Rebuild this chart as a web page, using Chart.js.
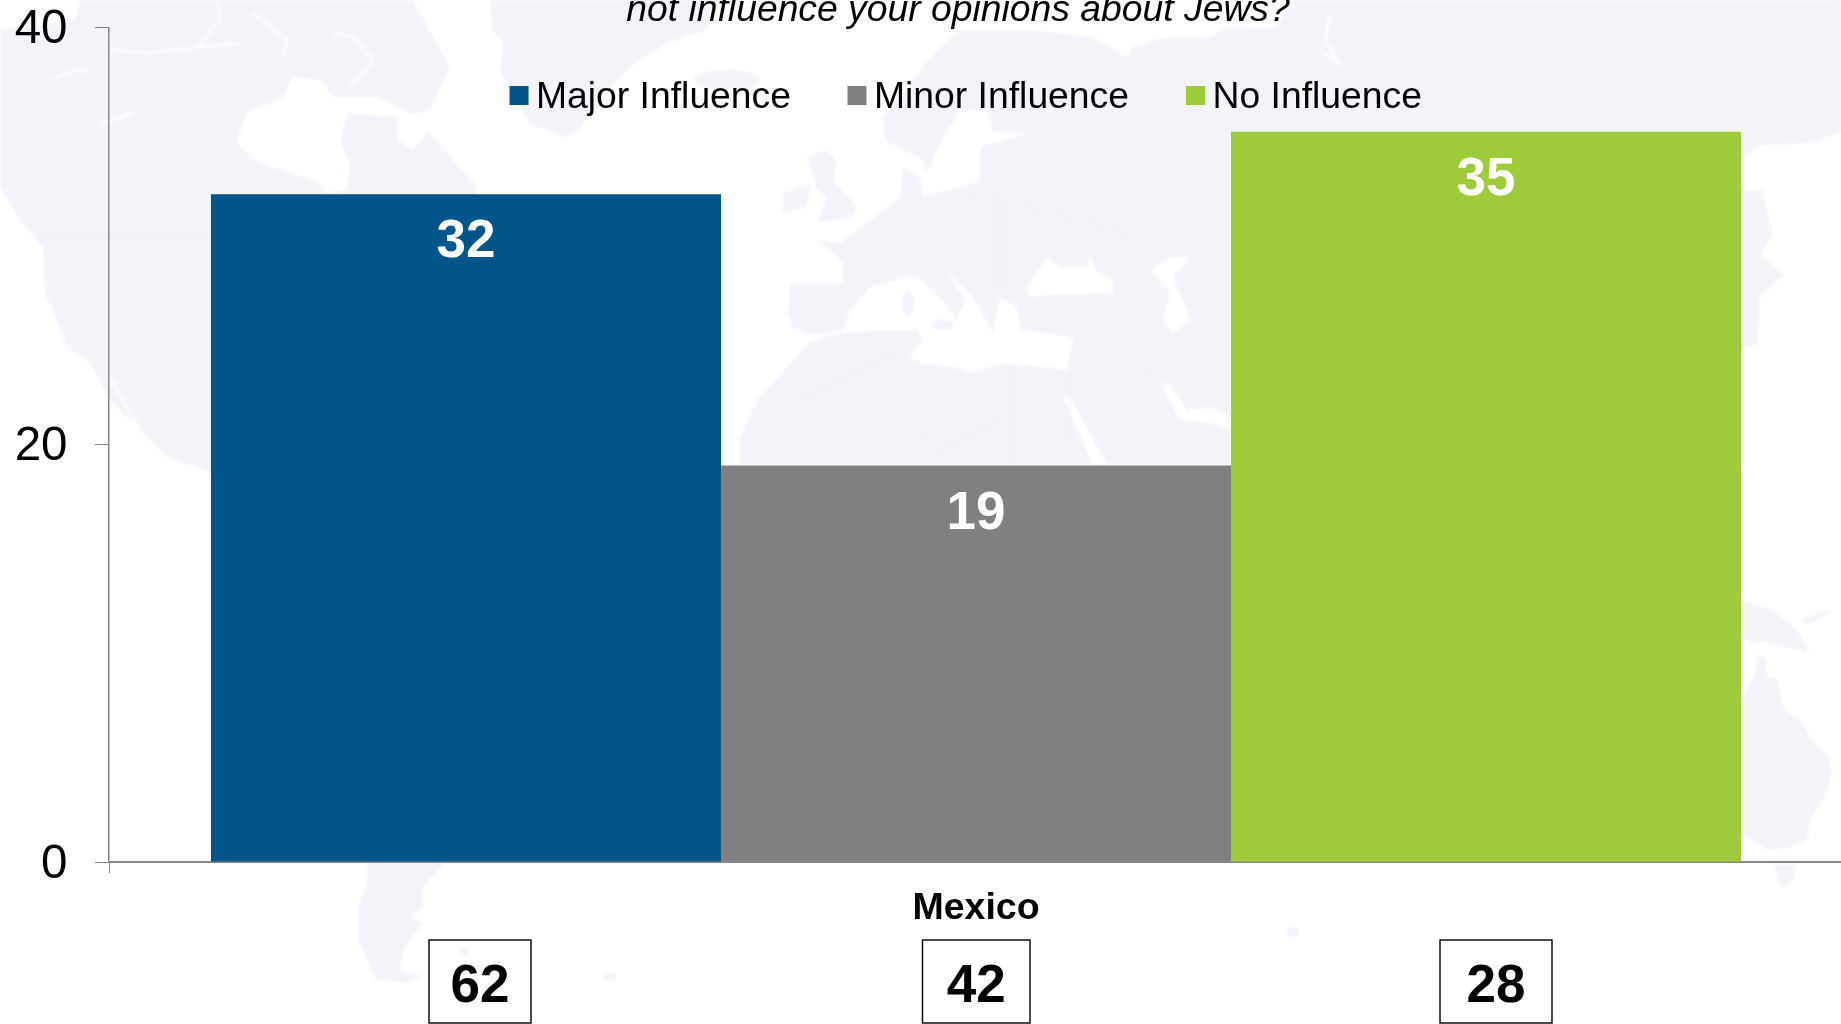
<!DOCTYPE html>
<html>
<head>
<meta charset="utf-8">
<style>
html,body{margin:0;padding:0;background:#fff;width:1841px;height:1024px;overflow:hidden}
#map{position:absolute;left:0;top:0;filter:blur(1.5px)}
#wrap{position:absolute;left:0;top:0;width:1841px;height:1024px;overflow:hidden}
</style>
<script src="https://cdn.jsdelivr.net/npm/chart.js@4"></script>
</head>
<body>
<svg id="map" width="1841" height="1024" viewBox="0 0 1841 1024">
  <g fill="#f2f4f9">
    <path d="M0,30 L75,20 L80,0 L413,0 L450,67 L430,110 L400,117 L430,133 L477,187 L477,480 L211,480 L211,473 L167,457 L140,430 L110,400 L90,363 L67,347 L45,293 L43,247 L20,220 L0,187 Z"/>
    <path d="M490,0 L713,0 L707,30 L667,43 L630,67 L590,110 L580,130 L563,137 L530,123 L500,73 L503,43 L492,30 Z"/>
    <ellipse cx="727" cy="80" rx="33" ry="10"/>
    <path d="M807,157 L827,150 L837,163 L833,180 L857,207 L853,217 L817,223 L827,197 L817,190 Z"/>
    <path d="M783,193 L810,183 L807,207 L783,213 Z"/>
    <path d="M935,52 L960,30 L1027,30 L1093,37 L1127,57 L1133,47 L1167,37 L1210,37 L1227,27 L1277,28 L1290,0 L1841,0 L1841,133 L1807,143 L1760,145 L1741,160 L1741,465 L740,465 L740,437 L757,400 L787,367 L808,343 L840,333 L880,330 L917,330 L923,340 L910,357 L923,363 L953,367 L970,373 L1007,363 L1067,370 L1073,337 L1020,330 L1017,307 L1000,298 L993,333 L975,300 L945,268 L965,300 L957,322 L945,303 L917,277 L907,277 L870,287 L850,310 L843,330 L813,335 L793,328 L788,313 L790,283 L843,283 L843,263 L817,240 L840,243 L870,220 L900,197 L903,167 L920,177 L923,197 L960,187 L980,180 L980,147 L1027,133 L993,133 L987,110 L960,110 L937,150 L927,173 L923,160 L885,140 L883,117 Z"/>
    <ellipse cx="943" cy="325" rx="12" ry="5"/>
    <ellipse cx="908" cy="303" rx="6" ry="13"/>
    <path d="M1741,190 L1762,190 L1773,235 L1760,255 L1785,275 L1760,295 L1758,345 L1741,347 Z"/>
    <path d="M1741,600 L1773,610 L1797,630 L1810,652 L1790,648 L1767,642 L1753,643 L1741,638 Z"/>
    <path d="M1800,620 L1827,610 L1830,613 L1807,625 Z"/>
    <path d="M1741,700 L1755,673 L1757,655 L1765,657 L1768,678 L1777,678 L1783,707 L1803,723 L1810,737 L1830,757 L1832,777 L1823,800 L1810,820 L1807,840 L1787,848 L1767,850 L1753,840 L1741,835 Z"/>
    <path d="M1774,865 L1797,865 L1793,880 L1783,888 L1777,877 Z"/>
    <path d="M367,862 L446,862 L423,887 L423,907 L411,917 L423,923 L405,947 L399,970 L425,977 L405,983 L376,980 L358,940 L358,907 L367,883 Z"/>
    <ellipse cx="610" cy="977" rx="7" ry="4"/>
    <ellipse cx="1293" cy="932" rx="7" ry="5"/>
    <ellipse cx="464" cy="952" rx="7" ry="3"/>
  </g>
  <g fill="#ffffff">
    <path d="M237,140 L247,113 L283,97 L293,77 L320,80 L333,97 L377,97 L417,117 L427,133 L413,150 L397,140 L397,117 L347,113 L340,143 L350,163 L347,190 L327,193 L317,182 L260,163 L243,150 Z"/>
    <path d="M1027,287 L1047,257 L1060,267 L1087,267 L1090,253 L1095,270 L1113,280 L1113,293 L1053,295 L1030,297 Z"/>
    <path d="M1152,270 L1170,257 L1190,257 L1173,277 L1190,320 L1173,333 L1163,320 L1170,293 Z"/>
    <path d="M1063,397 L1070,397 L1107,465 L1093,465 Z"/>
    <path d="M1160,383 L1170,383 L1187,410 L1210,407 L1230,417 L1230,430 L1210,423 L1180,420 Z"/>
    <path d="M997,307 L1015,307 L1017,335 L1000,340 Z"/>
  </g>
  <g fill="none" stroke="#ffffff" stroke-width="3" stroke-linejoin="round" opacity="0.85">
    <path d="M110,50 L150,53 L197,47 L220,20 L217,0"/>
    <path d="M197,47 L240,43"/>
    <path d="M253,13 L287,40 L283,58"/>
    <path d="M333,33 L353,37 L373,60 L350,87"/>
    <path d="M53,80 L73,70 L87,72"/>
    <path d="M100,125 L133,112"/>
    <path d="M110,377 L140,430"/>
    <path d="M1320,50 L1340,65 L1325,40 L1330,15"/>
  </g>
  <g fill="none" stroke="#edeff5" stroke-width="1">
    <path d="M33,236 L211,236"/>
    <path d="M800,400 L900,350 M860,380 L940,450 L1000,420 M1010,370 L1010,465 M1070,370 L1070,440"/>
    <path d="M960,190 L1040,210 L1100,225 L1140,240 M1000,200 L1000,290 M1140,370 L1190,400"/>
  </g>
</svg>
<div id="wrap"><canvas id="c" width="1843" height="1024"></canvas></div>
<script>
const categories = ['Mexico'];
const seriesNames = ['Major Influence', 'Minor Influence', 'No Influence'];
const majorInfluence = [32];
const minorInfluence = [19];
const noInfluence = [35];
const seriesColors = ['#02558b', '#808080', '#9fcb3a'];
const yTickValues = [0, 20, 40];
const boxedTotals = ['62', '42', '28'];
const titleText = 'not influence your opinions about Jews?';

const FONT = '"Liberation Sans", Arial, sans-serif';
const AXIS = '#868686';

const annotations = {
  id: 'annotations',
  afterDatasetsDraw(chart) {
    const ctx = chart.ctx;
    ctx.save();
    ctx.textAlign = 'center';
    ctx.textBaseline = 'alphabetic';
    ctx.font = 'bold 53px ' + FONT;
    ctx.fillStyle = '#ffffff';
    chart.data.datasets.forEach((ds, i) => {
      const bar = chart.getDatasetMeta(i).data[0];
      ctx.fillText(String(ds.data[0]), bar.x, bar.y + 63);
    });
    ctx.font = 'italic 37.3px ' + FONT;
    ctx.fillStyle = '#000000';
    ctx.fillText(titleText, 958, 21);
    ctx.textAlign = 'left';
    ctx.font = '37.3px ' + FONT;
    [509.5, 847.5, 1186].forEach((x, i) => {
      ctx.fillStyle = chart.data.datasets[i].backgroundColor;
      ctx.fillRect(x, 86, 19, 19);
      ctx.fillStyle = '#000000';
      ctx.fillText(chart.data.datasets[i].label, x + 26.5, 108);
    });
    ctx.textAlign = 'center';
    ctx.font = 'bold 53px ' + FONT;
    [[429, 531], [922.5, 1030], [1440, 1552]].forEach(([l, r], i) => {
      ctx.strokeStyle = '#111111';
      ctx.lineWidth = 1.5;
      ctx.strokeRect(l, 940, r - l, 83);
      ctx.fillStyle = '#000000';
      ctx.fillText(boxedTotals[i], (l + r) / 2, 1002);
    });
    ctx.restore();
  }
};

new Chart(document.getElementById('c'), {
  type: 'bar',
  data: {
    labels: categories,
    datasets: [
      { label: seriesNames[0], data: majorInfluence, backgroundColor: seriesColors[0] },
      { label: seriesNames[1], data: minorInfluence, backgroundColor: seriesColors[1] },
      { label: seriesNames[2], data: noInfluence, backgroundColor: seriesColors[2] }
    ]
  },
  options: {
    responsive: false,
    animation: false,
    layout: { padding: { top: 27.3, left: 0, right: 0, bottom: 0 } },
    datasets: { bar: { categoryPercentage: 0.8824, barPercentage: 1 } },
    plugins: { legend: { display: false }, tooltip: { enabled: false }, title: { display: false } },
    scales: {
      x: {
        afterFit(s) { s.height = 1024 - 862; s.paddingLeft = 0; s.paddingRight = 0; },
        border: { color: AXIS, width: 2 },
        grid: { display: true, offset: true, drawOnChartArea: false, color: AXIS, tickLength: 11, lineWidth: 1 },
        ticks: { color: '#000000', font: { family: FONT, size: 37.5, weight: 'bold' }, padding: 13, maxRotation: 0 }
      },
      y: {
        min: 0,
        max: 40,
        afterFit(s) { s.width = 109; s.paddingTop = 0; s.paddingBottom = 0; },
        afterBuildTicks(s) { s.ticks = yTickValues.map(v => ({ value: v })); },
        border: { color: AXIS, width: 1.5 },
        grid: { display: true, drawOnChartArea: false, color: AXIS, tickLength: 14, lineWidth: 1 },
        ticks: { color: '#000000', font: { family: FONT, size: 47.5 }, padding: 27.5, labelOffset: 2.5 }
      }
    }
  },
  plugins: [annotations]
});
</script>
</body>
</html>
